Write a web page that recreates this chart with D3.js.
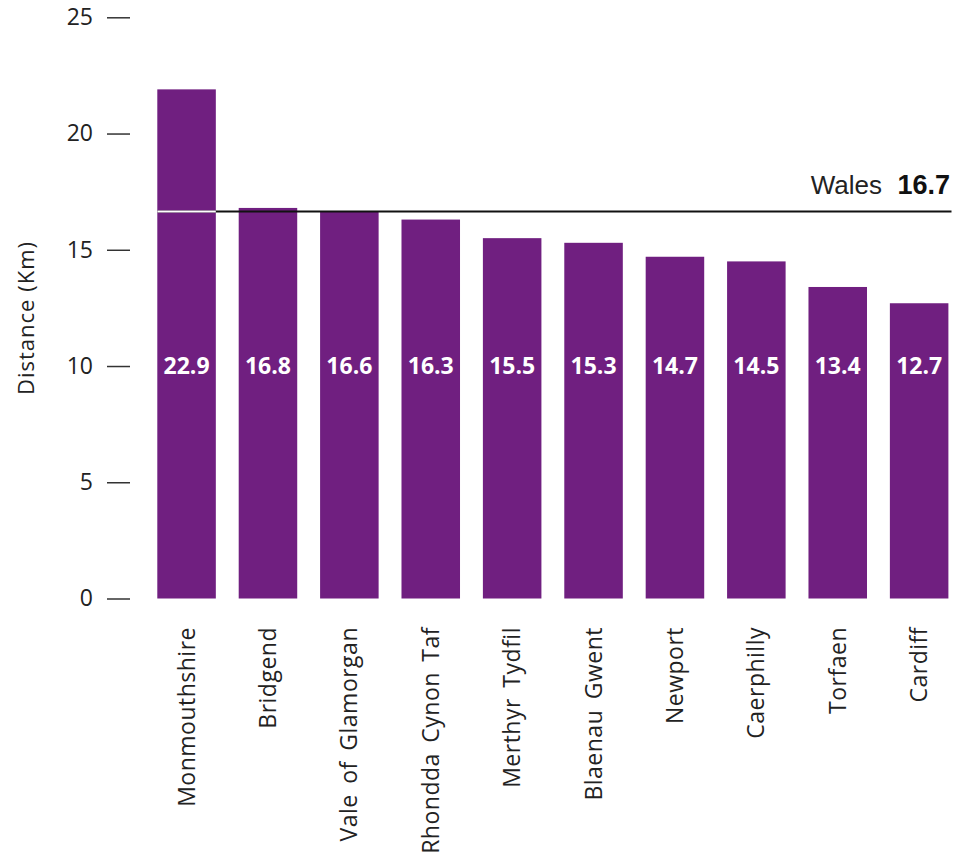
<!DOCTYPE html>
<html>
<head>
<meta charset="utf-8">
<script src="https://cdn.jsdelivr.net/npm/d3@7"></script>
<style>
  html, body { margin: 0; padding: 0; background: #fff; }
  svg { display: block; }
</style>
</head>
<body>
<svg id="chart" width="958" height="861"></svg>
<script>
const categories = ["Monmouthshire", "Bridgend", "Vale of Glamorgan", "Rhondda Cynon Taf", "Merthyr Tydfil", "Blaenau Gwent", "Newport", "Caerphilly", "Torfaen", "Cardiff"];
// bar heights as drawn in the picture
const barValues = [21.9, 16.8, 16.65, 16.3, 15.5, 15.3, 14.7, 14.5, 13.4, 12.7];
// labels printed on the bars
const barLabels = ["22.9", "16.8", "16.6", "16.3", "15.5", "15.3", "14.7", "14.5", "13.4", "12.7"];
const yTicks = [0, 5, 10, 15, 20, 25];
const walesValue = 16.65;
const walesName = "Wales";
const walesLabel = "16.7";
const yTitle = "Distance (Km)";

const svg = d3.select("#chart");
const purple = "#701f80";
const font = "'Open Sans', sans-serif";

const x = d3.scaleBand().domain(categories).range([157.3, 948.4]).paddingInner(0.281).paddingOuter(0);
const y = d3.scaleLinear().domain([0, 25]).range([598.5, 17.3]);

// y axis: ticks only, no domain line
const yAxis = d3.axisLeft(y).tickValues(yTicks).tickSize(23).tickPadding(14);
const gy = svg.append("g").attr("transform", "translate(130,0)").call(yAxis);
gy.select(".domain").remove();
gy.selectAll(".tick line").attr("stroke", "#333").attr("stroke-width", 1.5);
gy.selectAll(".tick text").attr("fill", "#222").style("font-family", font).style("font-size", "23px");

svg.append("text")
  .attr("transform", `translate(34,${318}) rotate(-90)`)
  .attr("text-anchor", "middle")
  .attr("fill", "#222")
  .style("font-family", font).style("font-size", "22px").style("letter-spacing", "1px")
  .text(yTitle);

// bars
svg.append("g").selectAll("rect").data(categories).join("rect")
  .attr("x", d => x(d))
  .attr("width", x.bandwidth())
  .attr("y", (d, i) => y(barValues[i]))
  .attr("height", (d, i) => y(0) - y(barValues[i]))
  .attr("fill", purple);

// Wales line
svg.append("line")
  .attr("x1", x(categories[0])).attr("x2", 951.5)
  .attr("y1", y(walesValue)).attr("y2", y(walesValue))
  .attr("stroke", "#111").attr("stroke-width", 2);
svg.append("line")
  .attr("x1", x(categories[0])).attr("x2", x(categories[0]) + x.bandwidth())
  .attr("y1", y(walesValue)).attr("y2", y(walesValue))
  .attr("stroke", "#fff").attr("stroke-width", 2);

svg.append("text")
  .attr("x", 882).attr("y", 194)
  .attr("text-anchor", "end")
  .attr("fill", "#222")
  .style("font-family", "'Liberation Sans', Arial, sans-serif").style("font-size", "26px")
  .text(walesName);
svg.append("text")
  .attr("x", 950).attr("y", 194)
  .attr("text-anchor", "end")
  .attr("fill", "#111")
  .style("font-family", "'Liberation Sans', Arial, sans-serif").style("font-size", "27px").style("font-weight", "bold")
  .text(walesLabel);

// value labels on bars
svg.append("g").selectAll("text").data(categories).join("text")
  .attr("x", d => x(d) + x.bandwidth() / 2)
  .attr("y", y(10))
  .attr("dy", "0.35em")
  .attr("text-anchor", "middle")
  .attr("fill", "#fff")
  .style("font-family", font).style("font-size", "23px").style("font-weight", 700)
  .text((d, i) => barLabels[i]);

// category labels
svg.append("g").selectAll("text").data(categories).join("text")
  .attr("transform", d => `translate(${x(d) + x.bandwidth() / 2 + 8},627) rotate(-90)`)
  .attr("text-anchor", "end")
  .attr("fill", "#222")
  .style("font-family", font).style("font-size", "23px").style("word-spacing", "4px").style("letter-spacing", "0.5px")
  .text(d => d);
</script>
</body>
</html>
